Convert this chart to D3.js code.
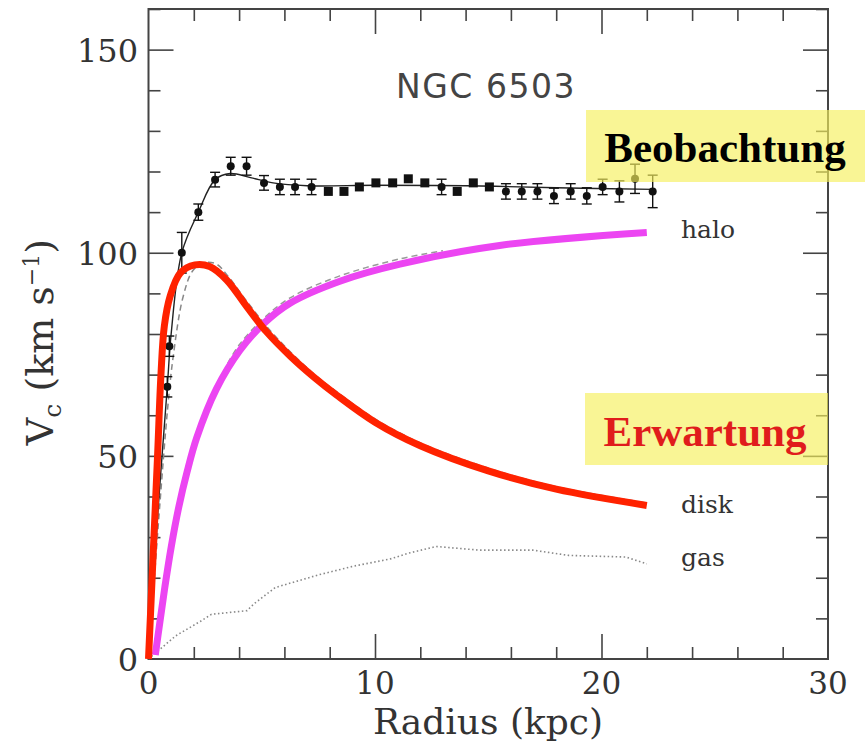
<!DOCTYPE html>
<html>
<head>
<meta charset="utf-8">
<script src="https://cdn.jsdelivr.net/npm/d3@7"></script>
<style>
  html, body { margin: 0; padding: 0; background: #fff; }
  svg { display: block; }
</style>
</head>
<body>
<svg id="chart" width="865" height="741"></svg>
<script>
// ---------------- DATA ----------------
const title = "NGC 6503";
const xTicks = [0, 10, 20, 30];
const yTicks = [0, 50, 100, 150];

// observed rotation curve (points with error bars; err 0 -> square marker)
const obsR   = [0.83, 0.92, 1.47, 2.2, 2.94, 3.63, 4.33, 5.1, 5.8, 6.47, 7.2, 7.94, 8.63, 9.31, 10.04, 10.78, 11.47, 12.2, 12.94, 13.63, 14.34, 15.05, 15.78, 16.48, 17.17, 17.9, 18.64, 19.35, 20.05, 20.79, 21.48, 22.26];
const obsV   = [67, 77, 100, 110, 118, 121.3, 121.3, 117.2, 116.2, 116.2, 116.2, 115.1, 115.1, 116.2, 117.2, 117.2, 118.2, 117.2, 116.2, 115.1, 117.2, 116.2, 115.1, 115.1, 115.1, 114, 115.1, 114, 116.2, 115.1, 118.2, 115.1];
const obsErr = [2.5, 2.5, 5, 2, 1.8, 2.2, 2.2, 1.8, 1.9, 1.9, 1.9, 0, 0, 0, 0, 0, 0, 0, 1.9, 0, 0, 0, 1.9, 1.9, 1.9, 1.9, 1.9, 2.0, 1.9, 2.6, 3.6, 4];

// total model fit (thin black line)
const totalR = [0, 0.4, 0.83, 1.0, 1.47, 2.2, 2.94, 3.6, 4.5, 5.5, 7, 10, 14, 18, 22.3];
const totalV = [0, 35, 67, 80, 100, 110, 118, 119.5, 118.5, 117.2, 116.5, 116.6, 116.5, 116, 115.6];

// disk (red, "Erwartung")
const diskR = [0, 0.2, 0.4, 0.55, 0.7, 0.95, 1.4, 2.05, 2.7, 3.45, 4.33, 5.2, 6.25, 7.3, 8.3, 10, 12, 15, 18, 22];
const diskV = [0, 25, 50, 70, 82, 89.2, 95, 97, 96.6, 93.3, 86.8, 80.6, 74.6, 69.4, 65, 58.3, 52.5, 46.3, 41.8, 37.8];

// original dashed disk model (grey, under the red)
const diskModelR = [0, 0.5, 0.85, 1.08, 1.52, 1.97, 2.5, 3.0, 3.5, 4.4, 5.3, 6.3, 7.3, 8.3, 10, 12, 15, 18, 22];
const diskModelV = [0, 38, 62, 74, 89, 95.7, 97.6, 97.2, 94.3, 87.6, 81.3, 75.4, 70.2, 65.8, 59.1, 53.2, 47, 42.4, 38.4];

// halo (magenta)
const haloR = [0.3, 0.5, 0.73, 1.0, 1.34, 1.7, 2.13, 3.0, 4.04, 5.07, 6.25, 8.45, 11.1, 15.5, 22];
const haloV = [1, 9, 18, 27.5, 37.5, 46, 54.5, 66.5, 76, 82.5, 87.6, 93, 97.2, 101.8, 105];

// original dashed halo model (grey, peeking out above the magenta)
const haloModelR = [3.5, 4, 5, 6.25, 8.45, 11.1, 13];
const haloModelV = [72.8, 77.3, 83.4, 88.9, 94.3, 98.5, 100.5];

// gas (dotted grey)
const gasR = [0, 1.2, 2.3, 2.78, 4.35, 4.66, 5.6, 7.5, 9.09, 10.66, 11.45, 12.7, 14.6, 16.97, 18.55, 21.07, 22];
const gasV = [0, 5.7, 9.3, 11, 11.9, 13.6, 17.6, 20.7, 22.9, 24.6, 26, 27.7, 26.8, 26.8, 25.5, 25.1, 23.4];

const curveLabels = ["halo", "disk", "gas"];
const boxLabels = ["Beobachtung", "Erwartung"];

// ---------------- CHART ----------------
const svg = d3.select("#chart");
const x = d3.scaleLinear().domain([0, 30]).range([148.5, 828]);
const y = d3.scaleLinear().domain([0, 160]).range([659, 9]);

const frameColor = "#444";
const txtColor = "#333";
const serif = "'DejaVu Serif', serif";

// frame
svg.append("rect")
  .attr("x", x(0)).attr("y", y(160))
  .attr("width", x(30) - x(0)).attr("height", y(0) - y(160))
  .attr("fill", "none").attr("stroke", frameColor).attr("stroke-width", 2);

// ticks via axes (inward)
const xMinor = d3.range(0, 31, 2).filter(v => v % 10 !== 0);
const xMajor = [10, 20];
const yMinor = d3.range(0, 161, 10).filter(v => v % 50 !== 0);
const yMajor = [50, 100, 150];

function tickAxis(axisFn, scale, vals, len, transform) {
  const g = svg.append("g").attr("transform", transform)
    .call(axisFn(scale).tickValues(vals).tickSize(len).tickFormat(""));
  g.select(".domain").remove();
  g.selectAll(".tick line").attr("stroke", frameColor).attr("stroke-width", 1.6);
}
tickAxis(d3.axisTop, x, xMinor, 12, `translate(0,${y(0)})`);
tickAxis(d3.axisTop, x, xMajor, 25, `translate(0,${y(0)})`);
tickAxis(d3.axisBottom, x, xMinor, 12, `translate(0,${y(160)})`);
tickAxis(d3.axisBottom, x, xMajor, 25, `translate(0,${y(160)})`);
tickAxis(d3.axisRight, y, yMinor, 12, `translate(${x(0)},0)`);
tickAxis(d3.axisRight, y, yMajor, 25, `translate(${x(0)},0)`);
tickAxis(d3.axisLeft, y, yMinor, 12, `translate(${x(30)},0)`);
tickAxis(d3.axisLeft, y, yMajor, 25, `translate(${x(30)},0)`);

// tick labels
svg.append("g").selectAll("text").data(xTicks).join("text")
  .attr("x", d => x(d)).attr("y", 694)
  .attr("text-anchor", "middle")
  .attr("font-family", serif).attr("font-size", 31).attr("fill", txtColor)
  .text(d => d);
svg.append("g").selectAll("text").data(yTicks).join("text")
  .attr("x", 138).attr("y", d => y(d) + 12)
  .attr("text-anchor", "end")
  .attr("font-family", serif).attr("font-size", 32).attr("fill", txtColor)
  .text(d => d);

// axis titles
svg.append("text")
  .attr("x", 488).attr("y", 734)
  .attr("text-anchor", "middle")
  .attr("font-family", serif).attr("font-size", 36).attr("fill", txtColor)
  .text("Radius (kpc)");

const yt = svg.append("text")
  .attr("transform", `translate(53,342) rotate(-90)`)
  .attr("text-anchor", "middle")
  .attr("font-family", serif).attr("font-size", 38).attr("fill", txtColor);
yt.append("tspan").text("V");
yt.append("tspan").attr("font-size", 25).attr("dy", 8).text("c");
yt.append("tspan").attr("dy", -8).text(" (km s");
yt.append("tspan").attr("font-size", 22).attr("dy", -14).text("−1");
yt.append("tspan").attr("dy", 14).text(")");

// title
svg.append("text")
  .attr("x", 486).attr("y", 98)
  .attr("text-anchor", "middle")
  .attr("font-family", "'DejaVu Sans', sans-serif").attr("font-size", 33)
  .attr("letter-spacing", 1.5)
  .attr("fill", "#444")
  .text(title);

const zip = (a, b) => a.map((v, i) => [v, b[i]]);
const line = d3.line().x(d => x(d[0])).y(d => y(d[1])).curve(d3.curveCatmullRom.alpha(0.5));
const lineLin = d3.line().x(d => x(d[0])).y(d => y(d[1]));

// gas (dotted)
svg.append("path").datum(zip(gasR, gasV))
  .attr("d", lineLin).attr("fill", "none")
  .attr("stroke", "#888").attr("stroke-width", 1.6)
  .attr("stroke-dasharray", "1.5 2.5");

// dashed grey model curves
svg.append("path").datum(zip(diskModelR, diskModelV))
  .attr("d", line).attr("fill", "none")
  .attr("stroke", "#888").attr("stroke-width", 1.5)
  .attr("stroke-dasharray", "6 4");
svg.append("path").datum(zip(haloModelR, haloModelV))
  .attr("d", line).attr("fill", "none")
  .attr("stroke", "#999").attr("stroke-width", 1.5)
  .attr("stroke-dasharray", "6 4");

// total model thin line
svg.append("path").datum(zip(totalR, totalV))
  .attr("d", line).attr("fill", "none")
  .attr("stroke", "#222").attr("stroke-width", 1.4);

// error bars + markers
const obs = obsR.map((r, i) => ({ r, v: obsV[i], e: obsErr[i] }));
const eb = svg.append("g").attr("stroke", "#111").attr("stroke-width", 1.4);
obs.filter(d => d.e > 0).forEach(d => {
  eb.append("line").attr("x1", x(d.r)).attr("x2", x(d.r))
    .attr("y1", y(d.v - d.e)).attr("y2", y(d.v + d.e));
  [d.v - d.e, d.v + d.e].forEach(vv => {
    eb.append("line").attr("x1", x(d.r) - 5).attr("x2", x(d.r) + 5)
      .attr("y1", y(vv)).attr("y2", y(vv));
  });
});
svg.append("g").selectAll("circle").data(obs.filter(d => d.e > 0)).join("circle")
  .attr("cx", d => x(d.r)).attr("cy", d => y(d.v)).attr("r", 4)
  .attr("fill", "#111");
svg.append("g").selectAll("rect").data(obs.filter(d => d.e === 0)).join("rect")
  .attr("x", d => x(d.r) - 4.5).attr("y", d => y(d.v) - 4.5)
  .attr("width", 9).attr("height", 9)
  .attr("fill", "#111");

// thick coloured curves
svg.append("path").datum(zip(haloR, haloV))
  .attr("d", line).attr("fill", "none")
  .attr("stroke", "#ec45f2").attr("stroke-width", 7);
svg.append("path").datum(zip(diskR, diskV))
  .attr("d", line).attr("fill", "none")
  .attr("stroke", "#ff2200").attr("stroke-width", 7)
  .attr("stroke-linejoin", "round");

// curve labels
const labelY = [238, 513, 566];
svg.append("g").selectAll("text").data(curveLabels).join("text")
  .attr("x", 681).attr("y", (d, i) => labelY[i])
  .attr("font-family", serif).attr("font-size", 25).attr("fill", txtColor)
  .text(d => d);

// yellow highlight boxes
const boxes = [
  { text: boxLabels[0], x0: 586, y0: 110, x1: 865, y1: 182, color: "#000", tx: 725, ty: 162 },
  { text: boxLabels[1], x0: 585, y0: 393, x1: 828, y1: 465, color: "#e01c1c", tx: 705, ty: 446 }
];
boxes.forEach(b => {
  svg.append("rect")
    .attr("x", b.x0).attr("y", b.y0)
    .attr("width", b.x1 - b.x0).attr("height", b.y1 - b.y0)
    .attr("fill", "#f6f05c").attr("fill-opacity", 0.65);
  svg.append("text")
    .attr("x", b.tx).attr("y", b.ty)
    .attr("text-anchor", "middle")
    .attr("font-family", "'Liberation Serif', 'Times New Roman', serif")
    .attr("font-weight", "bold").attr("font-size", 43)
    .attr("fill", b.color)
    .text(b.text);
});
</script>
</body>
</html>
